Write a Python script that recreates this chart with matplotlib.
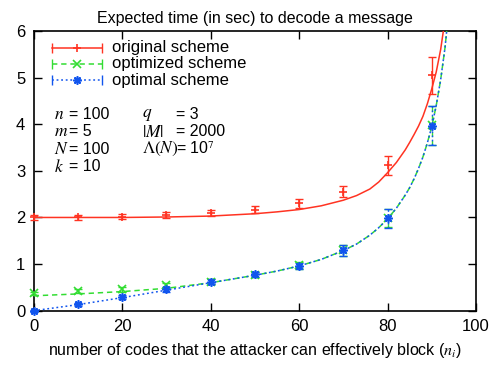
import matplotlib
matplotlib.use('Agg')
import matplotlib.pyplot as plt

plt.rcParams['font.family'] = ['Liberation Sans', 'DejaVu Sans']
plt.rcParams['mathtext.fontset'] = 'stix'

# measured points (mean and error half-width)
x_pts = [0, 10, 20, 30, 40, 50, 60, 70, 80, 90]
orig_pts = [2.00, 2.00, 2.02, 2.05, 2.10, 2.17, 2.30, 2.55, 3.12, 5.05]
orig_err = [0.05, 0.05, 0.05, 0.06, 0.07, 0.07, 0.10, 0.12, 0.20, 0.40]
optz_pts = [0.37, 0.42, 0.46, 0.55, 0.62, 0.77, 0.97, 1.30, 1.99, 3.98]
optz_err = [0.04, 0.04, 0.05, 0.05, 0.05, 0.05, 0.07, 0.12, 0.20, 0.42]
optm_pts = [0.00, 0.14, 0.30, 0.46, 0.62, 0.78, 0.96, 1.30, 1.98, 3.97]
optm_err = [0.02, 0.03, 0.04, 0.05, 0.05, 0.06, 0.07, 0.12, 0.20, 0.42]

# analytic curves
x_curve = [0, 10, 20, 30, 40, 50, 55, 60, 65, 70, 73, 76, 78, 80, 82, 84, 85,
           86, 87, 88, 89, 90, 91, 92, 93, 94]
orig_curve = [2.00, 2.00, 2.00, 2.01, 2.03, 2.08, 2.12, 2.17, 2.25, 2.37, 2.47,
              2.61, 2.76, 2.96, 3.18, 3.45, 3.61, 3.78, 3.96, 4.17, 4.44, 4.76,
              5.12, 5.60, 6.25, 7.00]
optz_curve = [0.32, 0.36, 0.41, 0.48, 0.60, 0.76, 0.85, 0.96, 1.10, 1.29, 1.43,
              1.62, 1.78, 1.97, 2.20, 2.48, 2.64, 2.83, 3.05, 3.30, 3.60, 3.95,
              4.40, 4.95, 5.65, 6.60]
optm_curve = [0.00, 0.13, 0.28, 0.44, 0.60, 0.76, 0.85, 0.96, 1.10, 1.29, 1.43,
              1.62, 1.78, 1.97, 2.20, 2.48, 2.64, 2.83, 3.05, 3.30, 3.60, 3.95,
              4.40, 4.95, 5.65, 6.60]

labels = ['original scheme', 'optimized scheme', 'optimal scheme']
colors = ['#ff3322', '#33dd33', '#1155ee']

fig = plt.figure(figsize=(4.91, 3.68), dpi=100)
ax = fig.add_axes([0.0686, 0.1557, 0.9009, 0.7601])

styles = [dict(ls='-'), dict(ls=(0, (3.5, 2.5))), dict(ls=(0, (1.2, 1.8)))]
markers = ['+', 'x', (8, 2, 0)]
curves = [orig_curve, optz_curve, optm_curve]
pts = [(orig_pts, orig_err), (optz_pts, optz_err), (optm_pts, optm_err)]

for c, st, mk, cv, (p, e) in zip(colors, styles, markers, curves, pts):
    ax.plot(x_curve, cv, color=c, lw=1.1, **st, zorder=3)
    eb = ax.errorbar(x_pts, p, yerr=e, fmt='none', ecolor=c, elinewidth=1.0,
                     capsize=3, capthick=1.0, zorder=4)
    eb[2][0].set_linestyle(st['ls'])
    for art in list(eb[1]) + list(eb[2]):
        art.set_clip_on(False)
    ax.plot(x_pts, p, ls='none', marker=mk, color=c, ms=6, mew=1.2, zorder=5,
            clip_on=False)

ax.set_xlim(0, 100)
ax.set_ylim(0, 6)
ax.set_xticks(range(0, 101, 20))
ax.set_yticks(range(0, 7))
ax.tick_params(direction='in', length=6, width=1, top=True, right=True,
               labelsize=12, pad=6)
for s in ax.spines.values():
    s.set_linewidth(1.2)

ax.set_title('Expected time (in sec) to decode a message', fontsize=11.5, pad=6)
ax.set_xlabel('number of codes that the attacker can effectively block ($n_i$)',
              fontsize=11.5, labelpad=5)

# legend drawn by hand, gnuplot style
for i, (lab, c, st, mk) in enumerate(zip(labels, colors, styles, markers)):
    yy = 0.940 - i * 0.058
    ax.plot([0.041, 0.154], [yy, yy], transform=ax.transAxes, color=c, lw=1.1,
            **st, clip_on=False)
    ax.plot([0.041, 0.154], [yy, yy], transform=ax.transAxes, ls='none',
            marker='|', ms=7, mew=1.0, color=c)
    ax.plot([0.0975], [yy], transform=ax.transAxes, ls='none', marker=mk,
            ms=6, mew=1.2, color=c)
    ax.text(0.176, yy, lab, transform=ax.transAxes, fontsize=12, va='center')

# parameter block
left_names = ['$n$', '$m$', '$N$', '$k$']
left_vals = ['= 100', '= 5', '= 100', '= 10']
right_names = ['$q$', '$|M|$', r'$\Lambda(N)$']
right_vals = ['= 3', '= 2000', '= 10$^7$']
for i, (nm, vl) in enumerate(zip(left_names, left_vals)):
    yy = 0.700 - i * 0.061
    ax.text(0.046, yy, nm, transform=ax.transAxes, fontsize=12.5, va='center')
    ax.text(0.080, yy, vl, transform=ax.transAxes, fontsize=11.5, va='center')
for i, (nm, vl) in enumerate(zip(right_names, right_vals)):
    yy = 0.700 - i * 0.061
    ax.text(0.244, yy, nm, transform=ax.transAxes, fontsize=12.5, va='center')
    ax.text(0.322, yy, vl, transform=ax.transAxes, fontsize=11.5, va='center')

fig.savefig('out.png', dpi=100)
